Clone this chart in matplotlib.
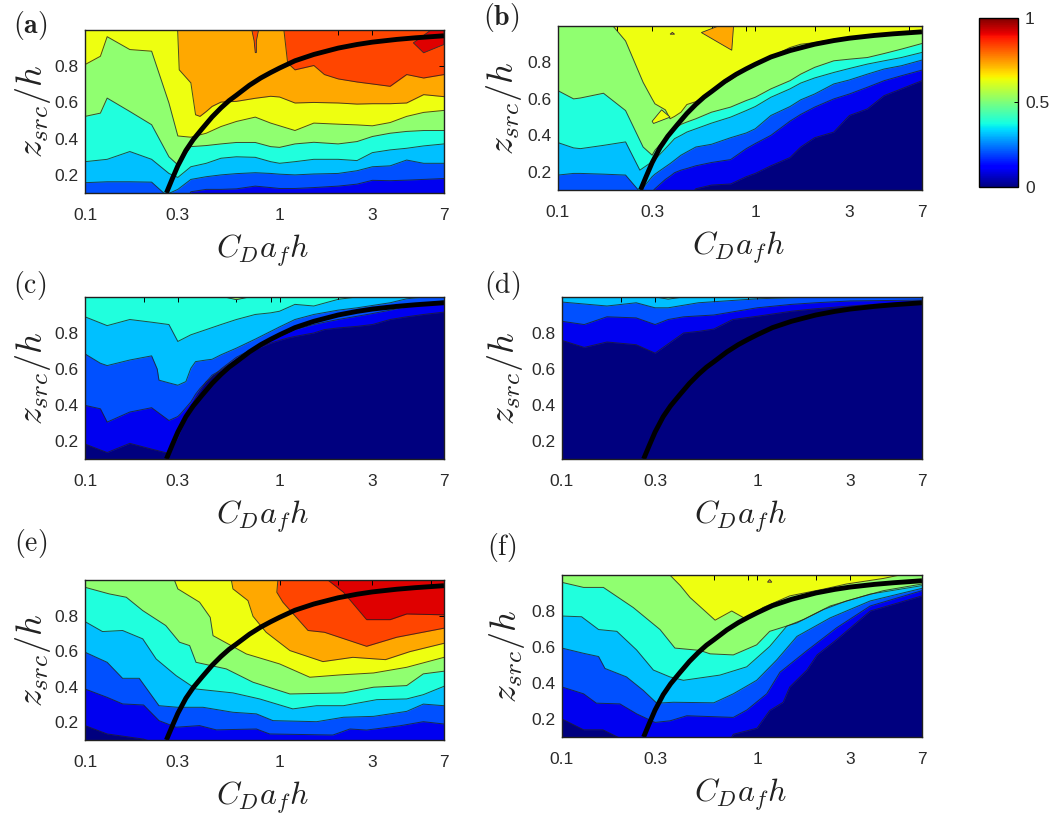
import matplotlib
matplotlib.use('Agg')
import matplotlib.pyplot as plt
from matplotlib.cm import ScalarMappable
from matplotlib.colors import Normalize
from matplotlib.ticker import NullFormatter

plt.rcParams['font.family'] = ['Liberation Sans', 'DejaVu Sans']
plt.rcParams['mathtext.fontset'] = 'cm'

W, H = 1052, 819

x_ticks = [0.1, 0.3, 1, 3, 7]
x_tick_labels = ['0.1', '0.3', '1', '3', '7']
x_minor = [0.2, 0.6, 0.9, 2, 6]
z_ticks = [0.2, 0.4, 0.6, 0.8]

# cores das faixas 0-0.1, 0.1-0.2, ... 0.9-1
band_colors = ['#00007f', '#0000f0', '#0050ff', '#00c0ff', '#20ffdd', '#90ff70', '#eeff10', '#ffa800', '#ff4500', '#df0000']

# curva preta (mesma em todos os paineis)
curve = [(.262, .10), (.28, .175), (.3, .25), (.33, .335), (.36, .395), (.4, .455), (.45, .52), (.5, .57),
         (.55, .61), (.6, .64), (.7, .695), (.8, .735), (.9, .765), (1, .79), (1.2, .83), (1.5, .865), (2, .9),
         (2.5, .92), (3, .933), (4, .948), (5, .957), (7, .968)]

# contornos: nivel -> [(CDafh, zsrc/h), ...]
panel_a = {
    0.2: [(.1, .05), (.33, .05), (.35, .107), (.42, .12), (.5, .12), (.6, .123), (.75, .138), (.9, .13), (1, .125),
          (1.2, .125), (1.5, .13), (2, .138), (2.5, .149), (3, .17), (3.7, .168), (4.5, .171), (5.5, .175), (7, .18)],
    0.3: [(.1, .157), (.13, .162), (.17, .162), (.22, .16), (.26, .09), (.3, .12), (.35, .175), (.42, .19), (.5, .2),
          (.6, .207), (.75, .212), (.9, .208), (1, .204), (1.2, .2), (1.5, .205), (2, .208), (2.5, .223), (3, .245),
          (3.7, .25), (4.5, .282), (5.5, .264), (7, .264)],
    0.4: [(.1, .273), (.13, .286), (.17, .329), (.22, .286), (.27, .208), (.3, .186), (.35, .245), (.42, .264),
          (.5, .292), (.6, .3), (.75, .297), (.9, .273), (1, .264), (1.2, .273), (1.5, .286), (2, .286), (2.5, .279),
          (3, .323), (3.7, .338), (4.5, .347), (5.5, .36), (7, .371)],
    0.5: [(.1, .523), (.12, .541), (.13, .624), (.17, .55), (.22, .477), (.27, .3), (.3, .255), (.35, .356), (.42, .362),
          (.5, .371), (.6, .379), (.75, .379), (.9, .356), (1, .352), (1.2, .371), (1.5, .38), (2, .371), (2.5, .384),
          (3, .412), (3.7, .43), (4.5, .44), (5.5, .445), (7, .445)],
    0.6: [(.1, .809), (.12, .855), (.13, .963), (.17, .892), (.22, .883), (.27, .597), (.3, .415), (.35, .408), (.42, .43),
          (.5, .467), (.6, .495), (.75, .519), (.9, .486), (1, .471), (1.2, .445), (1.5, .486), (2, .48), (2.5, .476),
          (3, .471), (3.7, .489), (4.5, .523), (5.5, .545), (7, .556)],
    0.7: [(.1, 1.05), (.298, 1.05), (.305, .78), (.35, .708), (.37, .532), (.39, .523), (.42, .55), (.45, .578), (.5, .602),
          (.6, .606), (.75, .623), (.9, .634), (1, .63), (1.2, .597), (1.5, .6), (2, .597), (2.5, .591), (3, .593),
          (3.7, .593), (4.5, .597), (5.5, .643), (7, .632)],
    0.8: [(.1, 1.05), (1.04, 1.05), (1.1, .818), (1.2, .78), (1.5, .804), (1.7, .754), (2, .73), (2.5, .713), (3, .702),
          (3.7, .689), (4.5, .754), (5.5, .735), (7, .754)],
}
panel_b = {
    0.1: [(.1, .05), (.45, .05), (.5, .107), (.6, .127), (.75, .133), (.9, .173), (1, .191), (1.2, .233), (1.5, .278),
          (1.7, .336), (2, .387), (2.5, .418), (3, .509), (3.7, .545), (4.5, .618), (5.5, .655), (7, .7)],
    0.2: [(.1, .05), (.27, .05), (.3, .09), (.31, .107), (.35, .158), (.37, .176), (.39, .195), (.42, .209), (.45, .218),
          (.5, .233), (.6, .251), (.75, .267), (.9, .327), (1, .355), (1.2, .4), (1.5, .478), (1.7, .515), (2, .555),
          (2.5, .6), (3, .627), (3.7, .664), (4.5, .7), (5.5, .727), (7, .758)],
    0.3: [(.1, .182), (.12, .191), (.13, .191), (.17, .187), (.22, .182), (.26, .09), (.3, .173), (.31, .187), (.35, .227),
          (.37, .245), (.39, .264), (.42, .291), (.45, .309), (.5, .336), (.6, .351), (.75, .387), (.9, .413), (1, .436),
          (1.2, .509), (1.5, .558), (1.7, .595), (2, .627), (2.5, .682), (3, .704), (3.7, .736), (4.5, .764), (5.5, .782), (7, .813)],
    0.4: [(.1, .36), (.12, .331), (.13, .327), (.17, .345), (.22, .364), (.26, .209), (.3, .255), (.31, .267), (.35, .327),
          (.37, .355), (.39, .382), (.42, .4), (.45, .418), (.5, .436), (.6, .467), (.75, .5), (.9, .536), (1, .558),
          (1.2, .609), (1.5, .655), (1.7, .687), (2, .715), (2.5, .745), (3, .767), (3.7, .791), (4.5, .809), (5.5, .827), (7, .855)],
    0.5: [(.1, .645), (.12, .6), (.13, .605), (.17, .631), (.22, .536), (.27, .336), (.3, .291), (.31, .318), (.35, .382),
          (.37, .409), (.39, .436), (.42, .46), (.45, .473), (.5, .491), (.6, .527), (.75, .555), (.9, .591), (1, .609),
          (1.2, .655), (1.5, .7), (1.7, .736), (2, .773), (2.5, .809), (3, .818), (3.7, .827), (4.5, .849), (5.5, .873), (7, .904)],
    0.6: [(.1, 1.05), (.185, 1.05), (.19, 1.0), (.22, .918), (.27, .691), (.3, .6), (.31, .573), (.35, .54), (.37, .491),
          (.39, .504), (.42, .527), (.45, .569), (.5, .585), (.6, .645), (.75, .704), (.9, .764), (1, .791), (1.2, .831),
          (1.5, .882), (1.7, .9), (2, .909), (2.5, .927), (3, .936), (3.7, .945), (4.5, .955), (5.5, .96), (7, .969)],
}
panel_c = {
    0.1: [(.1, .183), (.13, .136), (.17, .187), (.22, .155), (.27, .131), (.3, .22), (.31, .258), (.35, .389), (.37, .436),
          (.39, .479), (.42, .529), (.45, .566), (.5, .594), (.6, .654), (.75, .71), (.9, .744), (1, .759), (1.1, .772),
          (1.2, .781), (1.5, .8), (1.7, .819), (2, .828), (2.5, .837), (3, .847), (3.7, .875), (4.5, .89), (5.5, .903), (7, .916)],
    0.2: [(.1, .398), (.12, .379), (.13, .305), (.17, .361), (.22, .385), (.27, .314), (.3, .336), (.31, .351), (.35, .417),
          (.37, .46), (.39, .492), (.42, .529), (.45, .553), (.5, .6), (.6, .665), (.75, .72), (.9, .759), (1, .781),
          (1.1, .8), (1.2, .819), (1.5, .847), (1.7, .86), (2, .875), (2.5, .893), (3, .908), (3.7, .927), (4.5, .946), (5.5, .964), (7, .978)],
    0.3: [(.1, .684), (.12, .632), (.13, .619), (.17, .65), (.22, .673), (.235, .6), (.24, .538), (.27, .523), (.3, .51),
          (.33, .53), (.35, .604), (.37, .641), (.42, .65), (.45, .654), (.5, .679), (.6, .716), (.75, .766), (.9, .809),
          (1, .834), (1.2, .875), (1.5, .903), (2, .927), (2.5, .94), (3, .953), (3.7, .968), (4.5, .99), (7, 1.01)],
    0.4: [(.1, .89), (.13, .841), (.17, .875), (.22, .86), (.27, .847), (.3, .753), (.35, .79), (.42, .819), (.5, .847),
          (.6, .875), (.75, .903), (.9, .912), (1, .921), (1.2, .959), (1.5, .95), (2, .987), (2.5, 1.0), (7, 1.05)],
}
panel_d = {
    0.1: [(.1, .759), (.13, .72), (.17, .75), (.24, .735), (.3, .688), (.42, .8), (.5, .809), (.6, .822), (.75, .875),
          (1, .893), (1.5, .921), (2, .935), (3, .95), (4.5, .963), (7, .968)],
    0.2: [(.1, .865), (.13, .847), (.17, .89), (.24, .884), (.3, .847), (.35, .875), (.42, .89), (.6, .9), (1, .94),
          (1.5, .959), (2, .968), (3, .978), (7, .983)],
    0.3: [(.1, .972), (.17, .95), (.24, .968), (.3, .94), (.35, .94), (.5, .968), (1, .99), (1.5, .996), (2, 1.0), (7, 1.02)],
}
panel_e = {
    0.1: [(.1, .181), (.13, .134), (.2, .105), (.22, .09), (.24, .05), (7, .05)],
    0.2: [(.1, .387), (.13, .34), (.156, .303), (.2, .297), (.24, .209), (.294, .172), (.388, .181), (.473, .157), (.76, .162),
          (.889, .134), (1.88, .128), (2.3, .162), (2.8, .156), (4.15, .18), (5.48, .203), (7, .19)],
    0.3: [(.1, .594), (.13, .537), (.156, .447), (.19, .447), (.24, .293), (.3, .284), (.404, .284), (.576, .256), (.76, .247),
          (.925, .209), (1.55, .203), (2.13, .228), (3.04, .233), (4.5, .261), (5.48, .302), (7, .293)],
    0.4: [(.1, .766), (.123, .71), (.156, .716), (.198, .669), (.232, .556), (.294, .462), (.372, .387), (.576, .365), (.79, .331),
          (1.17, .275), (1.55, .293), (2.13, .293), (3.16, .327), (4.5, .331), (5.48, .355), (7, .402)],
    0.5: [(.1, .959), (.133, .922), (.163, .903), (.198, .828), (.26, .744), (.306, .65), (.345, .631), (.372, .537), (.532, .5),
          (.73, .425), (1.13, .359), (2.13, .365), (3.04, .397), (4.5, .406), (5.48, .472), (7, .487)],
    0.6: [(.1, 1.05), (.28, 1.05), (.288, 1.0), (.3, .95), (.388, .875), (.44, .79), (.455, .687), (.675, .584), (1, .528),
          (1.43, .453), (2.04, .466), (3.04, .477), (4.5, .509), (7, .565)],
    0.7: [(.1, 1.05), (.56, 1.05), (.565, 1.0), (.576, .95), (.688, .884), (.73, .796), (.853, .706), (1.13, .603), (1.67, .541),
          (2.38, .565), (3.5, .552), (4.67, .597), (7, .644)],
    0.8: [(.1, 1.05), (.975, 1.05), (.98, 1.0), (.968, .931), (1.04, .875), (1.4, .716), (1.7, .706), (2.8, .627), (4, .678), (7, .729)],
    0.9: [(.1, 1.05), (1.75, 1.05), (1.77, 1.0), (2.13, .931), (2.8, .777), (3.7, .777), (4.5, .809), (7, .804)],
}
panel_f = {
    0.1: [(.1, .2), (.129, .14), (.162, .14), (.196, .096), (.22, .05), (.7, .05), (.755, .115), (1, .149), (1.16, .247),
          (1.36, .293), (1.47, .378), (1.8, .472), (2.03, .556), (2.55, .64), (3.8, .8), (7, .884)],
    0.2: [(.1, .378), (.129, .34), (.15, .288), (.198, .284), (.242, .228), (.3, .181), (.358, .19), (.436, .218), (.755, .209),
          (.886, .25), (1.12, .34), (1.31, .46), (1.8, .58), (2.55, .706), (3.8, .828), (7, .913)],
    0.3: [(.1, .594), (.129, .565), (.154, .547), (.166, .481), (.214, .434), (.261, .359), (.306, .288), (.372, .293), (.6, .29),
          (.755, .34), (.995, .415), (1.26, .528), (1.6, .659), (2.37, .762), (3.8, .856), (7, .926)],
    0.4: [(.1, .772), (.126, .768), (.154, .697), (.191, .687), (.241, .584), (.294, .472), (.357, .434), (.419, .415), (.645, .444),
          (.885, .49), (1.16, .603), (1.42, .716), (1.73, .753), (2.37, .828), (3.8, .894), (7, .941)],
    0.5: [(.1, .959), (.129, .931), (.163, .931), (.232, .819), (.318, .697), (.379, .594), (.51, .581), (.574, .562), (.755, .556),
          (.995, .612), (1.16, .687), (1.6, .734), (2.2, .809), (2.87, .856), (4.44, .913), (7, .95)],
    0.6: [(.1, 1.05), (.35, 1.05), (.357, 1.0), (.404, .941), (.453, .875), (.609, .749), (.741, .8), (.885, .753), (1.07, .819),
          (1.47, .884), (2.2, .922), (2.87, .95), (4.44, .981), (5.4, 1.0), (7, 1.03)],
}

# pequenas ilhas: (indice da faixa, vertices)
islands_a = [(8, [(.72, 1), (.74, .94), (.75, .875), (.76, .875), (.76, .94), (.78, 1)]),
             (9, [(4.87, .929), (5.5, .874), (7, .92), (7, 1), (6, 1)])]
islands_b = [(7, [(.533, .964), (.65, 1), (.776, 1), (.76, .867)]),
             (6, [(.3, .477), (.335, .54), (.37, .5), (.305, .465)]),
             (7, [(.37, .955), (.38, .965), (.39, .955)])]
islands_c = [(5, [(.52, 1), (.6, .985), (.7, 1)])]
islands_d = [(4, [(.3, 1), (.35, .988), (.42, 1)])]
islands_f = [(7, [(1.13, .96), (1.16, .975), (1.19, .96)])]

panels = [
    ('a', panel_a, 8, islands_a, (85, 444, 30, 193), r'$\mathbf{(a)}$', (13, 25), 33),
    ('b', panel_b, 6, islands_b, (558, 922, 26, 190), r'$\mathbf{(b)}$', (483, 17), 504),
    ('c', panel_c, 4, islands_c, (85, 444, 297, 459), r'$\mathrm{(c)}$', (13, 285), 33),
    ('d', panel_d, 3, islands_d, (562, 922, 297, 459), r'$\mathrm{(d)}$', (484, 285), 505),
    ('e', panel_e, 9, [], (85, 444, 580, 740), r'$\mathrm{(e)}$', (14, 543), 33),
    ('f', panel_f, 6, islands_f, (562, 922, 575, 737), r'$\mathrm{(f)}$', (487, 548), 507),
]


def desenhar_painel(fig, contornos, topo, ilhas, caixa, letra, pos_letra, x_ylabel):
    x0, x1, y0, y1 = caixa
    ax = fig.add_axes([x0 / W, 1 - y1 / H, (x1 - x0) / W, (y1 - y0) / H])
    ax.set_xscale('log')
    ax.set_xlim(0.1, 7)
    ax.set_ylim(0.1, 1.0)
    ax.set_facecolor(band_colors[topo])

    # do nivel mais alto para o mais baixo, cada um pinta por cima
    for nivel in sorted(contornos, reverse=True):
        k = round(nivel * 10)
        xs = [p[0] for p in contornos[nivel]]
        zs = [p[1] for p in contornos[nivel]]
        ax.fill_between(xs, zs, 0, color=band_colors[k - 1], lw=0, zorder=k * -1 + 10)
    for nivel in contornos:
        xs = [p[0] for p in contornos[nivel]]
        zs = [p[1] for p in contornos[nivel]]
        ax.plot(xs, zs, color='#202020', lw=0.7, alpha=0.8, zorder=11)
    for faixa, pts in ilhas:
        ax.fill([p[0] for p in pts], [p[1] for p in pts], facecolor=band_colors[faixa],
                edgecolor='#303030', lw=0.6, zorder=12)

    ax.plot([p[0] for p in curve], [p[1] for p in curve], color='black', lw=3.5, zorder=13,
            solid_capstyle='butt', solid_joinstyle='round')

    ax.set_xticks(x_ticks)
    ax.set_xticklabels(x_tick_labels)
    ax.set_xticks(x_minor, minor=True)
    ax.xaxis.set_minor_formatter(NullFormatter())
    ax.set_yticks(z_ticks)
    ax.tick_params(which='both', direction='in', top=True, right=True, length=3.5, width=0.7,
                   labelsize=12.5, labelcolor='#2a2a2a')
    ax.tick_params(axis='x', which='both', pad=11)
    ax.tick_params(axis='y', which='both', pad=5)
    for s in ax.spines.values():
        s.set_linewidth(1.0)
        s.set_color('#202020')
        s.set_zorder(20)

    fig.text(((x0 + x1) / 2 - 2) / W, 1 - (y1 + 58) / H, r'$C_D a_f h$', fontsize=23, color='#222222',
             ha='center', va='center')
    fig.text(x_ylabel / W, 1 - (y0 + y1) / 2 / H, r'$z_{src}/h$', fontsize=26, color='#222222', rotation=90,
             ha='center', va='center')
    fig.text(pos_letra[0] / W, 1 - pos_letra[1] / H, letra, fontsize=20, color='#222222', ha='left', va='center')


fig = plt.figure(figsize=(W / 100, H / 100), dpi=100)
for nome, contornos, topo, ilhas, caixa, letra, pos_letra, x_ylabel in panels:
    desenhar_painel(fig, contornos, topo, ilhas, caixa, letra, pos_letra, x_ylabel)

# barra de cores
cax = fig.add_axes([979 / W, 1 - 187 / H, 39 / W, 169 / H])
cb = fig.colorbar(ScalarMappable(Normalize(0, 1), cmap='jet'), cax=cax, ticks=[0, 0.5, 1])
cb.ax.set_yticklabels(['0', '0.5', '1'])
cb.ax.tick_params(direction='in', length=3, width=0.7, labelsize=12.5, labelcolor='#2a2a2a', pad=5)
cb.outline.set_linewidth(1.0)

plt.savefig('out.png', dpi=100)
plt.close()
